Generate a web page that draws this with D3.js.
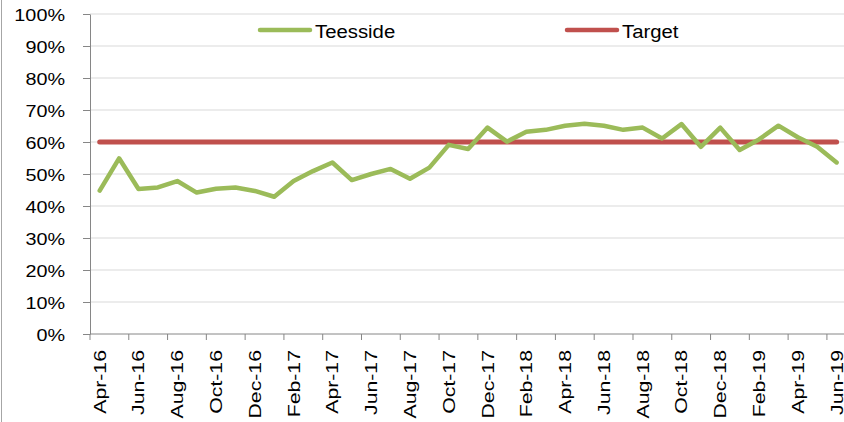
<!DOCTYPE html>
<html>
<head>
<meta charset="utf-8">
<script src="https://cdn.jsdelivr.net/npm/d3@7"></script>
<style>
  body { margin: 0; background: #fff; }
  svg { display: block; }
  .axis path, .axis line { stroke: #868686; }
  .axis text { font-family: "Liberation Sans", Arial, sans-serif; fill: #000; }
  .legend text { font-family: "Liberation Sans", Arial, sans-serif; fill: #000; }
</style>
</head>
<body>
<svg id="chart" width="844" height="422"></svg>
<script>
const months = ["Apr-16","May-16","Jun-16","Jul-16","Aug-16","Sep-16","Oct-16","Nov-16","Dec-16",
  "Jan-17","Feb-17","Mar-17","Apr-17","May-17","Jun-17","Jul-17","Aug-17","Sep-17","Oct-17","Nov-17","Dec-17",
  "Jan-18","Feb-18","Mar-18","Apr-18","May-18","Jun-18","Jul-18","Aug-18","Sep-18","Oct-18","Nov-18","Dec-18",
  "Jan-19","Feb-19","Mar-19","Apr-19","May-19","Jun-19"];

const teesside = [44.8, 54.9, 45.3, 45.8, 47.8, 44.2, 45.4, 45.8, 44.7,
  42.9, 47.8, 50.9, 53.6, 48.1, 50.0, 51.6, 48.5, 52.0, 59.1, 57.8, 64.5,
  60.1, 63.2, 63.8, 65.1, 65.7, 65.1, 63.8, 64.5, 61.1, 65.6, 58.5, 64.5,
  57.5, 60.8, 65.1, 61.5, 58.5, 53.6];

const target = [60, 60, 60, 60, 60, 60, 60, 60, 60,
  60, 60, 60, 60, 60, 60, 60, 60, 60, 60, 60, 60,
  60, 60, 60, 60, 60, 60, 60, 60, 60, 60, 60, 60,
  60, 60, 60, 60, 60, 60];

const yTicks = [0, 10, 20, 30, 40, 50, 60, 70, 80, 90, 100];

const series = [
  { name: "Teesside", values: teesside, color: "#9BBB59", width: 4.5 },
  { name: "Target", values: target, color: "#C0504D", width: 5 }
];

const svg = d3.select("#chart");

const x = d3.scaleBand()
  .domain(months)
  .range([90, 846.3])
  .padding(0);
const y = d3.scaleLinear()
  .domain([0, 100])
  .range([334, 14]);

// frame edge on the left
svg.append("line")
  .attr("x1", 1.5).attr("x2", 1.5)
  .attr("y1", 0).attr("y2", 422)
  .attr("stroke", "#a6a6a6");

// gridlines
svg.append("g")
  .selectAll("line")
  .data(yTicks.filter(d => d > 0))
  .enter()
  .append("line")
  .attr("x1", 90).attr("x2", 844)
  .attr("y1", d => y(d)).attr("y2", d => y(d))
  .attr("stroke", "#d9d9d9")
  .attr("stroke-width", 1);

// y axis
const yAxis = svg.append("g")
  .attr("class", "axis")
  .attr("transform", "translate(90,0)")
  .call(d3.axisLeft(y).tickValues(yTicks).tickSize(7).tickSizeOuter(0).tickFormat(d => d + "%"));
yAxis.selectAll("text")
  .attr("font-size", 16.5)
  .attr("x", 0)
  .attr("dy", "0.42em")
  .attr("transform", "translate(-25,0) scale(1.2,1)");

// x axis
const evenMonths = months.filter((m, i) => i % 2 === 0);
const xAxis = svg.append("g")
  .attr("class", "axis")
  .attr("transform", "translate(0,334)")
  .call(d3.axisBottom(x).tickValues(evenMonths).tickSize(6).tickSizeOuter(0));
xAxis.select(".domain").attr("d", "M90,0H844");
xAxis.selectAll(".tick line")
  .attr("transform", `translate(${-x.bandwidth() / 2},0)`);
xAxis.selectAll(".tick text")
  .attr("font-size", 17)
  .attr("text-anchor", "end")
  .attr("x", 0).attr("y", 0).attr("dy", "0.35em")
  .attr("transform", "translate(0,16) rotate(-90) scale(1.25,1)");

// lines
const line = d3.line()
  .x((d, i) => x(months[i]) + x.bandwidth() / 2)
  .y(d => y(d));

svg.append("g")
  .selectAll("path")
  .data(series.slice().reverse())
  .enter()
  .append("path")
  .attr("fill", "none")
  .attr("stroke", d => d.color)
  .attr("stroke-width", d => d.width)
  .attr("stroke-linejoin", "round")
  .attr("stroke-linecap", "round")
  .attr("d", d => line(d.values));

// legend
const legendX = [260, 567];
const legend = svg.append("g")
  .attr("class", "legend")
  .selectAll("g")
  .data(series)
  .enter()
  .append("g")
  .attr("transform", (d, i) => `translate(${legendX[i]},30)`);
legend.append("line")
  .attr("x1", 0).attr("x2", 50)
  .attr("stroke", d => d.color)
  .attr("stroke-width", 4.5)
  .attr("stroke-linecap", "round");
legend.append("text")
  .attr("font-size", 18)
  .attr("dy", "0.35em")
  .attr("transform", "translate(55,2) scale(1.13,1)")
  .text(d => d.name);
</script>
</body>
</html>
